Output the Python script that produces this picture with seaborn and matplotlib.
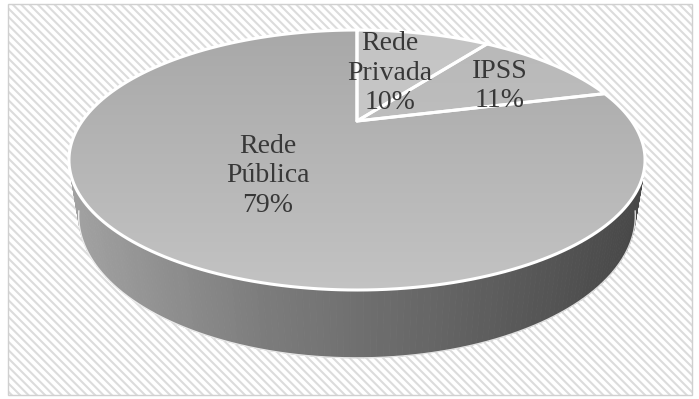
import numpy as np
import matplotlib
matplotlib.use("Agg")
import matplotlib.pyplot as plt
from matplotlib.patches import Rectangle, Polygon
from matplotlib.colors import ListedColormap
import seaborn as sns

# Distribution of children by type of network
categories = ["Rede\nPrivada", "IPSS", "Rede\nPública"]
shares = [10, 11, 79]
pct_labels = ["10%", "11%", "79%"]

sns.set_theme(style="white")
plt.rcParams["font.family"] = ["Liberation Serif", "DejaVu Serif"]
plt.rcParams["hatch.linewidth"] = 1.5

W, H = 699, 399
fig = plt.figure(figsize=(W / 100, H / 100), dpi=100)
ax = fig.add_axes([0, 0, 1, 1])
ax.set_xlim(0, W)
ax.set_ylim(H, 0)
ax.axis("off")

# hatched chart area with thin border
ax.add_patch(Rectangle((8, 4), 684, 391, facecolor="white", edgecolor="#dcdcdc",
                       linewidth=0, hatch="\\\\\\\\", zorder=0))
ax.add_patch(Rectangle((8, 4), 684, 391, fill=False, edgecolor="#d0d0d0",
                       linewidth=1.0, zorder=1))

# perspective view of a unit-radius disc
phi = np.radians(25.5)
sp, cp = np.sin(phi), np.cos(phi)
dist, focal = 3.008, 826.5
cx, cy = 357.0, 121.0
depth = 0.222


def project(theta, yv):
    X, Z = np.sin(theta), np.cos(theta)
    yc = yv * cp + Z * sp
    zc = -yv * sp + Z * cp + dist
    return cx + focal * X / zc, cy - focal * yc / zc


# side band (gradient from left to right)
n_side = 360
th = np.linspace(0, 2 * np.pi, n_side + 1)
tx, ty = project(th, 0.0)
bx, by = project(th, -depth)
side_pal = sns.blend_palette(["#a2a2a2", "#7c7c7c", "#636363", "#474747"], n_colors=256)
xmin, xmax = tx.min(), tx.max()
order = np.argsort(-np.cos(th[:-1] + np.pi / n_side))  # back to front
for i in order:
    quad = [(tx[i], ty[i]), (tx[i + 1], ty[i + 1]), (bx[i + 1], by[i + 1]), (bx[i], by[i])]
    t = (0.5 * (tx[i] + tx[i + 1]) - xmin) / (xmax - xmin)
    c = side_pal[int(np.clip(t, 0, 1) * 255)]
    ax.add_patch(Polygon(quad, closed=True, facecolor=c, edgecolor=c, linewidth=0.6, zorder=2))

# outline of the bottom edge
front = np.linspace(np.radians(105), np.radians(255), 200)
fx, fy = project(front, -depth)
ax.plot(fx, fy, color="white", lw=1.0, alpha=0.8, zorder=3)

# top face wedges, clockwise from 12 o'clock
top_grads = [("#c4c4c4", "#cccccc"), ("#b8b8b8", "#c6c6c6"), ("#a8a8a8", "#c3c3c3")]
fracs = np.array(shares, dtype=float) / np.sum(shares)
edges = np.concatenate([[0], np.cumsum(fracs)]) * 2 * np.pi
ys = np.linspace(0, 1, 256)[:, None] * np.ones((1, 2))
for k in range(len(shares)):
    a = np.linspace(edges[k], edges[k + 1], 200)
    px, py = project(a, 0.0)
    verts = [(cx, cy)] + list(zip(px, py))
    poly = Polygon(verts, closed=True, facecolor="none", edgecolor="white",
                   linewidth=2.2, joinstyle="round", zorder=6)
    ax.add_patch(poly)
    cmap = ListedColormap(sns.blend_palette(list(top_grads[k]), n_colors=256))
    im = ax.imshow(ys, cmap=cmap, extent=(55, 660, 292, 26), origin="upper",
                   aspect="auto", interpolation="bilinear", zorder=5)
    im.set_clip_path(poly)

# labels
label_pos = [(390, 73), (500, 86), (268, 176)]
for name, pct, (lx, ly) in zip(categories, pct_labels, label_pos):
    ax.text(lx, ly, f"{name}\n{pct}", ha="center", va="center", fontsize=20,
            color="#383838", linespacing=1.22, zorder=8)

ax.set_xlim(0, W)
ax.set_ylim(H, 0)
fig.savefig("out.png", dpi=100)
